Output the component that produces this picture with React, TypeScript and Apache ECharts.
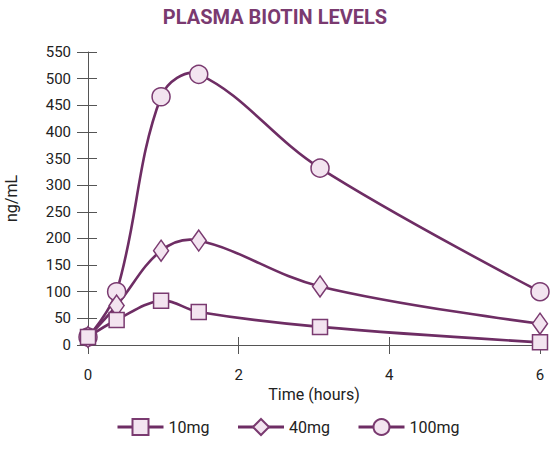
import React, { useEffect, useRef } from "react";
import * as echarts from "echarts";

const times = [0, 0.38, 0.97, 1.47, 3.08, 6];
const seriesNames = ["10mg", "40mg", "100mg"];
const values10 = [15, 47, 83, 62, 34, 5];
const values40 = [15, 74, 177, 196, 110, 40];
const values100 = [15, 100, 466, 508, 332, 100];
const xTicks = [0, 2, 4, 6];
const yTicks = [0, 50, 100, 150, 200, 250, 300, 350, 400, 450, 500, 550];

const LINE = "#6e2d64";
const FILL = "#f3e4f0";
const EDGE = "#7a3a70";
const TEXT = "#222222";
const AXIS = "#555555";
const FONT = "Roboto, 'Noto Sans', Arial, sans-serif";

function smoothPath(p: number[][], s: number): string {
  const n = p.length;
  const cpB: number[][] = [];
  const cpA: number[][] = [];
  for (let i = 0; i < n; i++) {
    if (i === 0 || i === n - 1) {
      cpB.push(p[i]);
      cpA.push(p[i]);
      continue;
    }
    const vx = p[i + 1][0] - p[i - 1][0];
    const vy = p[i + 1][1] - p[i - 1][1];
    const lp = Math.hypot(p[i][0] - p[i - 1][0], p[i][1] - p[i - 1][1]);
    const ln = Math.hypot(p[i + 1][0] - p[i][0], p[i + 1][1] - p[i][1]);
    const r = ln / (lp + ln);
    cpB.push([p[i][0] - vx * s * (1 - r), p[i][1] - vy * s * (1 - r)]);
    cpA.push([p[i][0] + vx * s * r, p[i][1] + vy * s * r]);
  }
  let d = `M${p[0][0]},${p[0][1]}`;
  for (let i = 0; i < n - 1; i++) {
    d += ` C${cpA[i][0]},${cpA[i][1]} ${cpB[i + 1][0]},${cpB[i + 1][1]} ${p[i + 1][0]},${p[i + 1][1]}`;
  }
  return d;
}

export default function App() {
  const ref = useRef<HTMLDivElement>(null);
  useEffect(() => {
    if (!ref.current) return;
    const chart = echarts.init(ref.current, undefined, { renderer: "svg" });
    const pts = (vals: number[]) => times.map((t, i) => [t, vals[i]]);
    const curve = (name: string, vals: number[]) => ({
      name,
      type: "custom",
      coordinateSystem: "cartesian2d",
      xAxisIndex: 0,
      yAxisIndex: 0,
      silent: true,
      data: pts(vals),
      encode: { x: 0, y: 1 },
      renderItem: (params: any, api: any) => {
        if (params.dataIndex !== 0) return null;
        const px = times.map((t, i) => api.coord([t, vals[i]]));
        return {
          type: "path",
          shape: { pathData: smoothPath(px, 0.37) },
          style: { fill: "none", stroke: LINE, lineWidth: 2.6 },
        };
      },
    });
    const marks = (name: string, vals: number[], symbol: string, size: any) => ({
      name,
      type: "line",
      xAxisIndex: 0,
      yAxisIndex: 0,
      data: pts(vals),
      symbol,
      symbolSize: size,
      showAllSymbol: true,
      silent: true,
      lineStyle: { color: LINE, width: 2.6, opacity: 0 },
      itemStyle: { color: FILL, borderColor: EDGE, borderWidth: 1.5 },
      emphasis: { disabled: true },
    });
    const xMin = xTicks[0];
    const xMax = xTicks[xTicks.length - 1];
    const yMin = yTicks[0];
    const yMax = yTicks[yTicks.length - 1];
    const xInt = xTicks[1] - xTicks[0];
    const yInt = yTicks[1] - yTicks[0];
    chart.setOption({
      animation: false,
      title: {
        text: "PLASMA BIOTIN LEVELS",
        left: "center",
        top: 2,
        textStyle: { color: EDGE, fontSize: 20, fontWeight: "bold", fontFamily: FONT },
      },
      grid: {
        left: 88,
        right: 10,
        top: 52,
        bottom: 107,
        containLabel: false,
        outerBoundsMode: "none",
      },
      legend: {
        bottom: 11,
        left: 111,
        itemWidth: 46,
        itemHeight: 20,
        itemGap: 27,
        data: seriesNames,
        lineStyle: { color: LINE, width: 3, opacity: 1 },
        textStyle: { color: TEXT, fontSize: 16, fontFamily: FONT },
      },
      xAxis: [
        {
          type: "value",
          min: xMin,
          max: xMax,
          interval: xInt,
          position: "bottom",
          name: "Time (hours)",
          nameLocation: "middle",
          nameGap: 41,
          nameTextStyle: { color: TEXT, fontSize: 16, fontFamily: FONT },
          axisLine: { show: true, onZero: false, lineStyle: { color: AXIS, width: 1 } },
          axisTick: { show: true, inside: false, length: 9, lineStyle: { color: AXIS } },
          axisLabel: { color: TEXT, fontSize: 15, margin: 22, fontFamily: FONT },
          splitLine: { show: false },
        },
        {
          type: "value",
          min: xMin,
          max: xMax,
          interval: xInt,
          position: "bottom",
          axisLine: { show: false, onZero: false },
          axisTick: { show: true, inside: true, length: 8, lineStyle: { color: AXIS } },
          axisLabel: { show: false },
          splitLine: { show: false },
        },
      ],
      yAxis: [
        {
          type: "value",
          min: yMin,
          max: yMax,
          interval: yInt,
          position: "left",
          name: "ng/mL",
          nameLocation: "middle",
          nameGap: 69,
          nameTextStyle: { color: TEXT, fontSize: 16, fontFamily: FONT },
          axisLine: { show: true, onZero: false, lineStyle: { color: AXIS, width: 1 } },
          axisTick: { show: true, inside: false, length: 11, lineStyle: { color: AXIS } },
          axisLabel: { color: TEXT, fontSize: 15, margin: 17, fontFamily: FONT },
          splitLine: { show: false },
        },
        {
          type: "value",
          min: yMin,
          max: yMax,
          interval: yInt,
          position: "left",
          axisLine: { show: false, onZero: false },
          axisTick: { show: true, inside: true, length: 9, lineStyle: { color: AXIS } },
          axisLabel: { show: false },
          splitLine: { show: false },
        },
      ],
      series: [
        curve("c100", values100),
        curve("c40", values40),
        curve("c10", values10),
        marks(seriesNames[2], values100, "circle", 18),
        marks(seriesNames[1], values40, "diamond", [15, 21]),
        marks(seriesNames[0], values10, "rect", 15),
      ],
    });
    return () => chart.dispose();
  }, []);
  return (
    <div
      ref={ref}
      style={{ position: "absolute", left: 0, top: 0, width: 550, height: 452 }}
    />
  );
}
